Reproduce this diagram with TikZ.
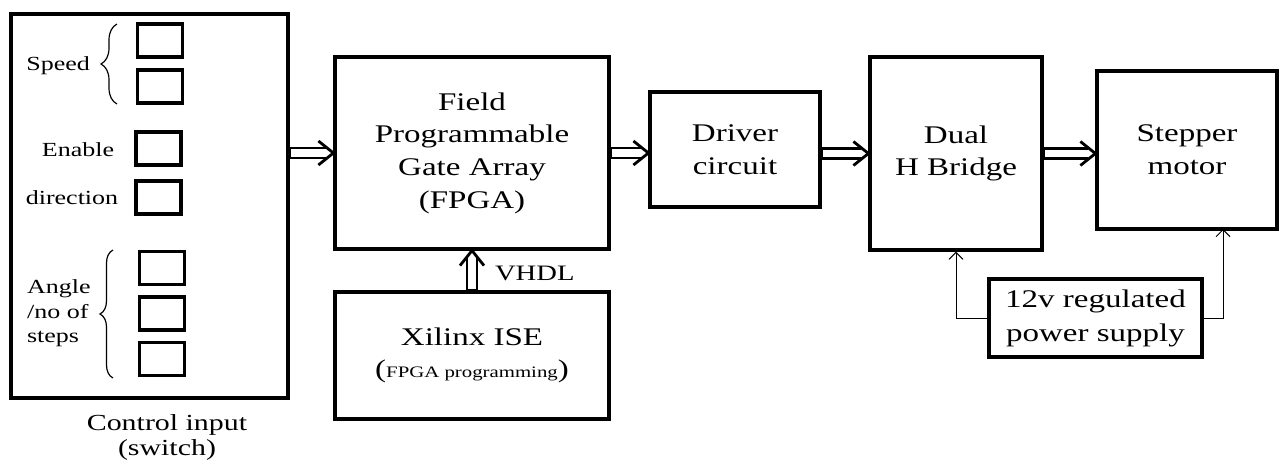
\documentclass[tikz,border=0pt]{standalone}
\usepackage{fontspec}
\setmainfont{Liberation Serif}[FakeStretch=1.3]
\usetikzlibrary{arrows.meta,decorations.pathreplacing,decorations.markings,positioning}

\begin{document}
\begin{tikzpicture}[x=0.5pt, y=-0.5pt,
		bigtxt/.style={font=\fontsize{12.7}{16.3}\selectfont},
		smalltxt/.style={font=\fontsize{10}{12.25}\selectfont},
		dblarrow/.style={draw=none,
			preaction={draw, line width=6.2pt, shorten >=3.5pt},
			preaction={draw, white, line width=3.6pt, shorten >=3.5pt, shorten <=0.8pt},
			postaction={decorate, decoration={markings, mark=at position 1 with {\draw[line width=1.4pt] (-7.5pt,6pt) -- (0pt,0pt) -- (-7.5pt,-6pt);}}}},
		thinarrow/.style={line width=0.5pt, -{Straight Barb[length=3.5pt,width=7pt]}},
		bracket/.style={decorate, line width=0.6pt}]
	\useasboundingbox (0,0) rectangle (1280,462);
	\begin{scope}[every node/.style={draw, line width=1.6pt, align=center, bigtxt}]
		\node[minimum width=138.5pt, minimum height=192pt] (ctrl) at (149.5,206) {};
		\node[minimum width=137pt, minimum height=96pt] (fpga) at (472,153) {Field\\Programmable\\Gate Array\\(FPGA)};
		\node[minimum width=137pt, minimum height=63.5pt] (xil) at (472,355.5) {Xilinx ISE\\({\fontsize{8}{10}\selectfont FPGA programming})};
		\node[minimum width=85pt, minimum height=57.5pt] (drv) at (735,149.5) {Driver\\circuit};
		\node[minimum width=86pt, minimum height=96.5pt] (hb) at (956,153.5) {Dual\\H Bridge};
		\node[minimum width=90pt, minimum height=79pt] (mot) at (1187,150) {Stepper\\motor};
		\node[minimum width=106.5pt, minimum height=39pt, font=\fontsize{12.7}{17}\selectfont] (psu) at (1095.5,318) {12v regulated\\power supply};
	\end{scope}
	\begin{scope}[every node/.style={draw, line width=1.6pt, minimum width=22.5pt, minimum height=16.5pt}]
		\node (sw1) at (160,40.5) {};
		\node (sw2) at (160,86.5) {};
		\node (sw3) at (158.5,148.5) {};
		\node (sw4) at (158.5,197.5) {};
		\node (sw5) at (162,268) {};
		\node (sw6) at (162,313.5) {};
		\node (sw7) at (162,359) {};
	\end{scope}
	\begin{scope}[every node/.style={smalltxt}]
		\node[anchor=east] (speed) at (97,66) {Speed};
		\node (enable) at (78,150) {Enable};
		\node (dir) at (72,198) {direction};
		\node[anchor=west, align=left] (angle) at (20,313.5) {Angle\\/no of\\steps};
	\end{scope}
	\draw[bracket, decoration={brace, amplitude=8pt}] (117,104) -- (117,24);
	\draw[bracket, decoration={brace, amplitude=6.5pt}] (113,378) -- (113,250);
	\node[font=\fontsize{11.5}{12.5}\selectfont, align=center] (ctrllbl) at (167,437) {Control input\\(switch)};
	\node[anchor=west, font=\fontsize{11}{13}\selectfont] (vhdl) at (488,273) {VHDL};
	\draw[dblarrow] (fpga.west -| ctrl.east) -- (fpga.west);
	\draw[dblarrow] (fpga.east) -- (fpga.east -| drv.west);
	\draw[dblarrow] (hb.west -| drv.east) -- (hb.west);
	\draw[dblarrow] (hb.east) -- (hb.east -| mot.west);
	\draw[dblarrow] (xil.north) -- (fpga.south);
	\coordinate (motin) at (1223,229);
	\draw[thinarrow] (psu.west) -| (hb.south);
	\draw[thinarrow] (psu.east) -| (motin);
\end{tikzpicture}
\end{document}
